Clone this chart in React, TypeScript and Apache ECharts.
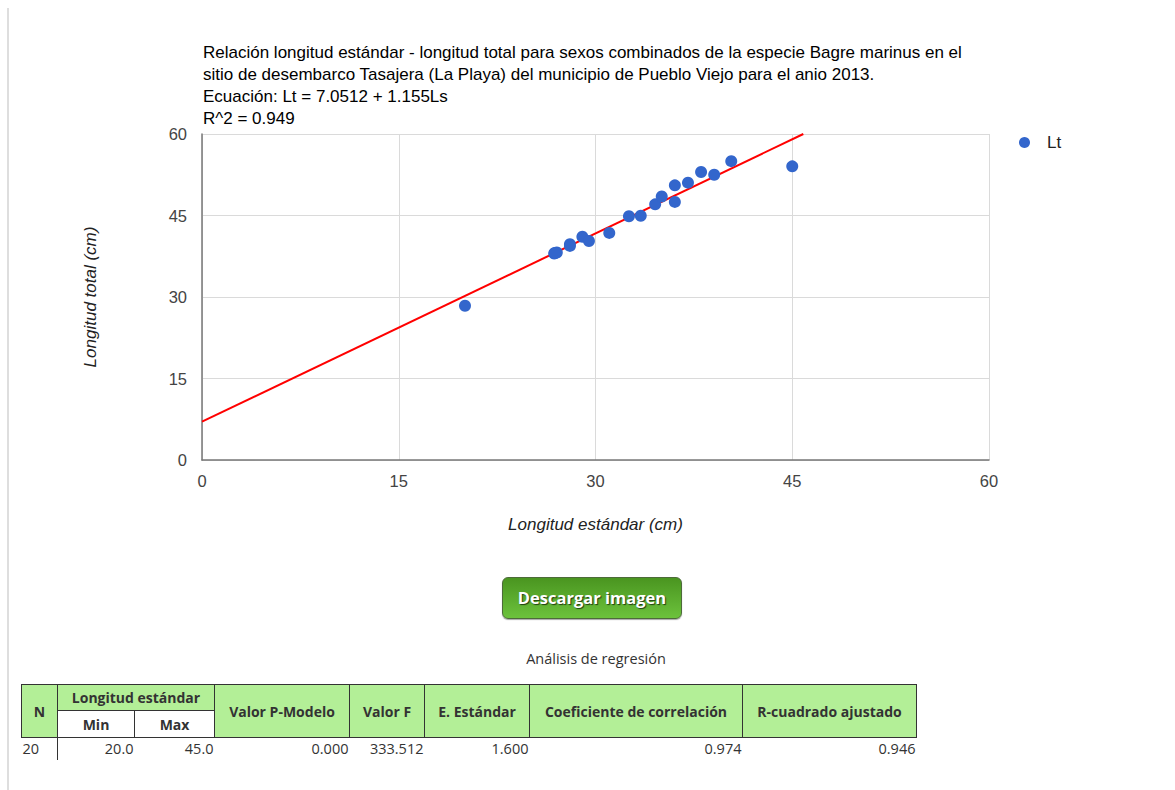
import React, { useEffect, useRef } from "react";
import * as echarts from "echarts";

const titleLines = [
  "Relación longitud estándar - longitud total para sexos combinados de la especie Bagre marinus en el",
  "sitio de desembarco Tasajera (La Playa) del municipio de Pueblo Viejo para el anio 2013.",
  "Ecuación: Lt = 7.0512 + 1.155Ls",
  "R^2 = 0.949",
];

const lsValues = [20.05, 26.85, 27.05, 28.05, 28.05, 29.0, 29.5, 31.05, 32.55, 33.45, 34.55, 35.05, 36.05, 36.05, 37.05, 38.05, 39.05, 40.35, 45.0, 26.9];
const ltValues = [28.4, 38.0, 38.2, 39.7, 39.4, 41.1, 40.3, 41.8, 44.85, 44.95, 47.05, 48.5, 50.55, 47.5, 51.05, 53.0, 52.5, 55.0, 54.05, 38.1];

const intercept = 7.0512;
const slope = 1.155;
const axisTicks = [0, 15, 30, 45, 60];

const tableHeaders = ["N", "Longitud estándar", "Min", "Max", "Valor P-Modelo", "Valor F", "E. Estándar", "Coeficiente de correlación", "R-cuadrado ajustado"];
const tableRow = ["20", "20.0", "45.0", "0.000", "333.512", "1.600", "0.974", "0.946"];
const colWidths = [36, 77, 80, 135, 75, 105, 213, 174];

export default function App() {
  const ref = useRef<HTMLDivElement>(null);

  useEffect(() => {
    if (!ref.current) return;
    const chart = echarts.init(ref.current, undefined, { renderer: "svg" });
    const points = lsValues.map((x, i) => [x, ltValues[i]]);
    const xEnd = (axisTicks[axisTicks.length - 1] - intercept) / slope;
    const trend = [
      [0, intercept],
      [xEnd, intercept + slope * xEnd],
    ];
    chart.setOption({
      animation: false,
      title: {
        text: titleLines.join("\n"),
        left: 203,
        top: 41,
        padding: 0,
        textStyle: {
          fontFamily: "Liberation Sans",
          fontSize: 17,
          fontWeight: "normal",
          color: "#000",
          lineHeight: 22,
        },
      },
      legend: {
        data: [{ name: "Lt", icon: "circle" }],
        left: 1014,
        top: 129,
        itemWidth: 11,
        itemHeight: 11,
        itemGap: 10,
        textStyle: { fontFamily: "Liberation Sans", fontSize: 17, color: "#222", padding: [0, 0, 0, 12] },
      },
      grid: { left: 202, top: 134, width: 787, height: 326 },
      xAxis: {
        type: "value",
        min: 0,
        max: 60,
        interval: 15,
        name: "Longitud estándar (cm)",
        nameLocation: "middle",
        nameGap: 56,
        nameTextStyle: { fontFamily: "Liberation Sans", fontSize: 17, fontStyle: "italic", color: "#222" },
        axisLine: { show: true, onZero: false, lineStyle: { color: "#777", width: 1.5 } },
        axisTick: { show: false },
        axisLabel: { fontFamily: "Liberation Sans", fontSize: 16.5, color: "#444", margin: 12 },
        splitLine: { show: true, lineStyle: { color: "#dadada", width: 1 } },
      },
      yAxis: {
        type: "value",
        min: 0,
        max: 60,
        interval: 15,
        name: "Longitud total (cm)",
        nameLocation: "middle",
        nameGap: 103,
        nameTextStyle: { fontFamily: "Liberation Sans", fontSize: 17, fontStyle: "italic", color: "#222" },
        axisLine: { show: true, onZero: false, lineStyle: { color: "#777", width: 1.5 } },
        axisTick: { show: false },
        axisLabel: { fontFamily: "Liberation Sans", fontSize: 16.5, color: "#444", margin: 15 },
        splitLine: { show: true, lineStyle: { color: "#dadada", width: 1 } },
      },
      series: [
        {
          name: "Trend",
          type: "line",
          data: trend,
          showSymbol: false,
          symbol: "none",
          lineStyle: { color: "#ff0000", width: 2 },
          z: 2,
          silent: true,
        },
        {
          name: "Lt",
          type: "scatter",
          data: points,
          symbolSize: 12,
          itemStyle: { color: "#3366cc", opacity: 1 },
          z: 3,
        },
      ],
    });
    return () => chart.dispose();
  }, []);

  const cellBase: React.CSSProperties = {
    border: "1px solid #333",
    fontWeight: "bold",
    textAlign: "center",
    padding: 0,
    color: "#333",
    fontSize: 14,
  };
  const green = "#b3ef97";

  return (
    <div style={{ position: "absolute", left: 0, top: 0, width: 1175, height: 790, background: "#fff", overflow: "hidden" }}>
      <div style={{ position: "absolute", left: 7, top: 8, width: 2, height: 782, background: "#dedede" }} />
      <div ref={ref} style={{ position: "absolute", left: 0, top: 0, width: 1175, height: 560 }} />
      <div
        style={{
          position: "absolute",
          left: 502,
          top: 577,
          width: 178,
          height: 40,
          borderRadius: 6,
          border: "1px solid #4d6b3a",
          boxShadow: "0 1px 1px rgba(0,0,0,0.35)",
          background: "linear-gradient(to bottom, #4a9520, #6cc23c)",
          color: "#fff",
          fontFamily: "'Open Sans'",
          fontWeight: "bold",
          fontSize: 16.5,
          lineHeight: "40px",
          textAlign: "center",
          textShadow: "1px 1px 1px #1f3d10",
        }}
      >
        Descargar imagen
      </div>
      <div
        style={{
          position: "absolute",
          left: 446,
          top: 648,
          width: 300,
          textAlign: "center",
          fontFamily: "'Open Sans'",
          fontSize: 14.5,
          color: "#333",
          lineHeight: "22px",
        }}
      >
        Análisis de regresión
      </div>
      <table
        style={{
          position: "absolute",
          left: 21,
          top: 684,
          width: 896,
          borderCollapse: "collapse",
          tableLayout: "fixed",
          fontFamily: "'Open Sans'",
          fontSize: 14.5,
        }}
      >
        <colgroup>
          {colWidths.map((w, i) => (
            <col key={i} style={{ width: w }} />
          ))}
        </colgroup>
        <tbody>
          <tr style={{ height: 26 }}>
            <td rowSpan={2} style={{ ...cellBase, background: green }}>{tableHeaders[0]}</td>
            <td colSpan={2} style={{ ...cellBase, background: green }}>{tableHeaders[1]}</td>
            {tableHeaders.slice(4).map((h, i) => (
              <td key={i} rowSpan={2} style={{ ...cellBase, background: green }}>{h}</td>
            ))}
          </tr>
          <tr style={{ height: 27 }}>
            <td style={{ ...cellBase, background: "#fff" }}>{tableHeaders[2]}</td>
            <td style={{ ...cellBase, background: "#fff" }}>{tableHeaders[3]}</td>
          </tr>
          <tr style={{ height: 22 }}>
            {tableRow.map((v, i) => (
              <td
                key={i}
                style={{
                  padding: i === 0 ? "0 0 0 1px" : "0 1px 0 0",
                  textAlign: i === 0 ? "left" : "right",
                  color: "#333",
                  borderLeft: i === 1 ? "1px solid #333" : "none",
                  verticalAlign: "middle",
                  lineHeight: "22px",
                }}
              >
                {v}
              </td>
            ))}
          </tr>
        </tbody>
      </table>
    </div>
  );
}
